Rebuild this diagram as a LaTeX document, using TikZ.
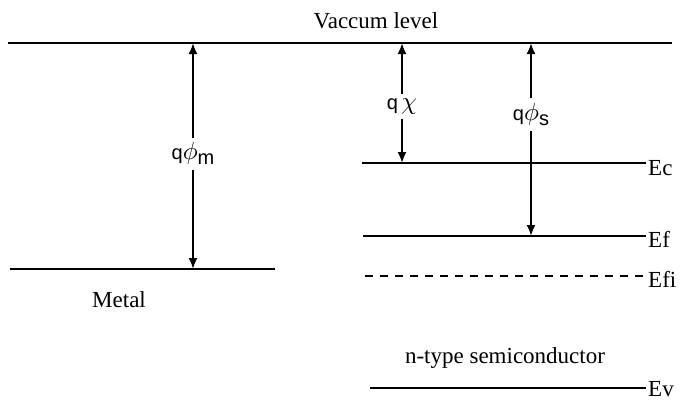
\documentclass[tikz,border=0pt]{standalone}
\usepackage{fontspec}
\usepackage{graphicx}
\setmainfont{Liberation Serif}
\newfontfamily\qfont{Liberation Sans}
\usetikzlibrary{arrows.meta}
\newcommand{\bigsym}[1]{\scalebox{2.5}{\fontsize{10}{12}\selectfont$#1$}}
\begin{document}
\begin{tikzpicture}[x=1pt,y=-1pt,
  levelline/.style={line width=2pt},
  dashedline/.style={line width=2pt,dash pattern=on 8pt off 7pt},
  gaparrow/.style={line width=2pt,arrows={Latex[length=11pt,width=9pt]-Latex[length=11pt,width=9pt]}},
  txt/.style={font=\fontsize{23}{27}\selectfont,inner sep=0pt},
  qlbl/.style={fill=white,inner xsep=1pt,inner ysep=5pt,font=\qfont\fontsize{20}{24}\selectfont}]
\useasboundingbox (0,0) rectangle (680,400);
% levels
\coordinate (vacL) at (8,43);   \coordinate (vacR) at (672,43);
\coordinate (metL) at (10,269); \coordinate (metR) at (275,269);
\coordinate (ecL) at (362,163); \coordinate (ecR) at (646,163);
\coordinate (efL) at (363,236); \coordinate (efR) at (646,236);
\coordinate (efiL) at (365,276); \coordinate (efiR) at (643,276);
\coordinate (evL) at (370,388); \coordinate (evR) at (646,388);
\draw[levelline] (vacL) -- (vacR);
\draw[levelline] (metL) -- (metR);
\draw[levelline] (ecL) -- (ecR);
\draw[levelline] (efL) -- (efR);
\draw[dashedline] (efiL) -- (efiR);
\draw[levelline] (evL) -- (evR);
% arrow ends
\coordinate (m1) at (193,43);  \coordinate (m2) at (193,269);
\coordinate (c1) at (402,43);  \coordinate (c2) at (402,163);
\coordinate (s1) at (531,43);  \coordinate (s2) at (531,236);
\draw[gaparrow] (m1) -- (m2) node[qlbl,pos=0.49] (qphim) {q\bigsym{\phi}\raisebox{-5pt}{m}};
\draw[gaparrow] (c1) -- (c2) node[qlbl,pos=0.53] (qchi) {q\,\bigsym{\chi}};
\draw[gaparrow] (s1) -- (s2) node[qlbl,pos=0.37] (qphis) {q\bigsym{\phi}\raisebox{-5pt}{s}};
% texts
\node[txt,anchor=base] (vac) at (376,28) {Vaccum level};
\node[txt,anchor=base west] (metal) at (92,307) {Metal};
\node[txt,anchor=base] (semi) at (505,363) {n-type semiconductor};
\node[txt,anchor=base west] (ec) at (648,175) {Ec};
\node[txt,anchor=base west] (ef) at (648,247) {Ef};
\node[txt,anchor=base west] (efi) at (648,287) {Efi};
\node[txt,anchor=base west] (ev) at (648,396) {Ev};
\end{tikzpicture}
\end{document}
